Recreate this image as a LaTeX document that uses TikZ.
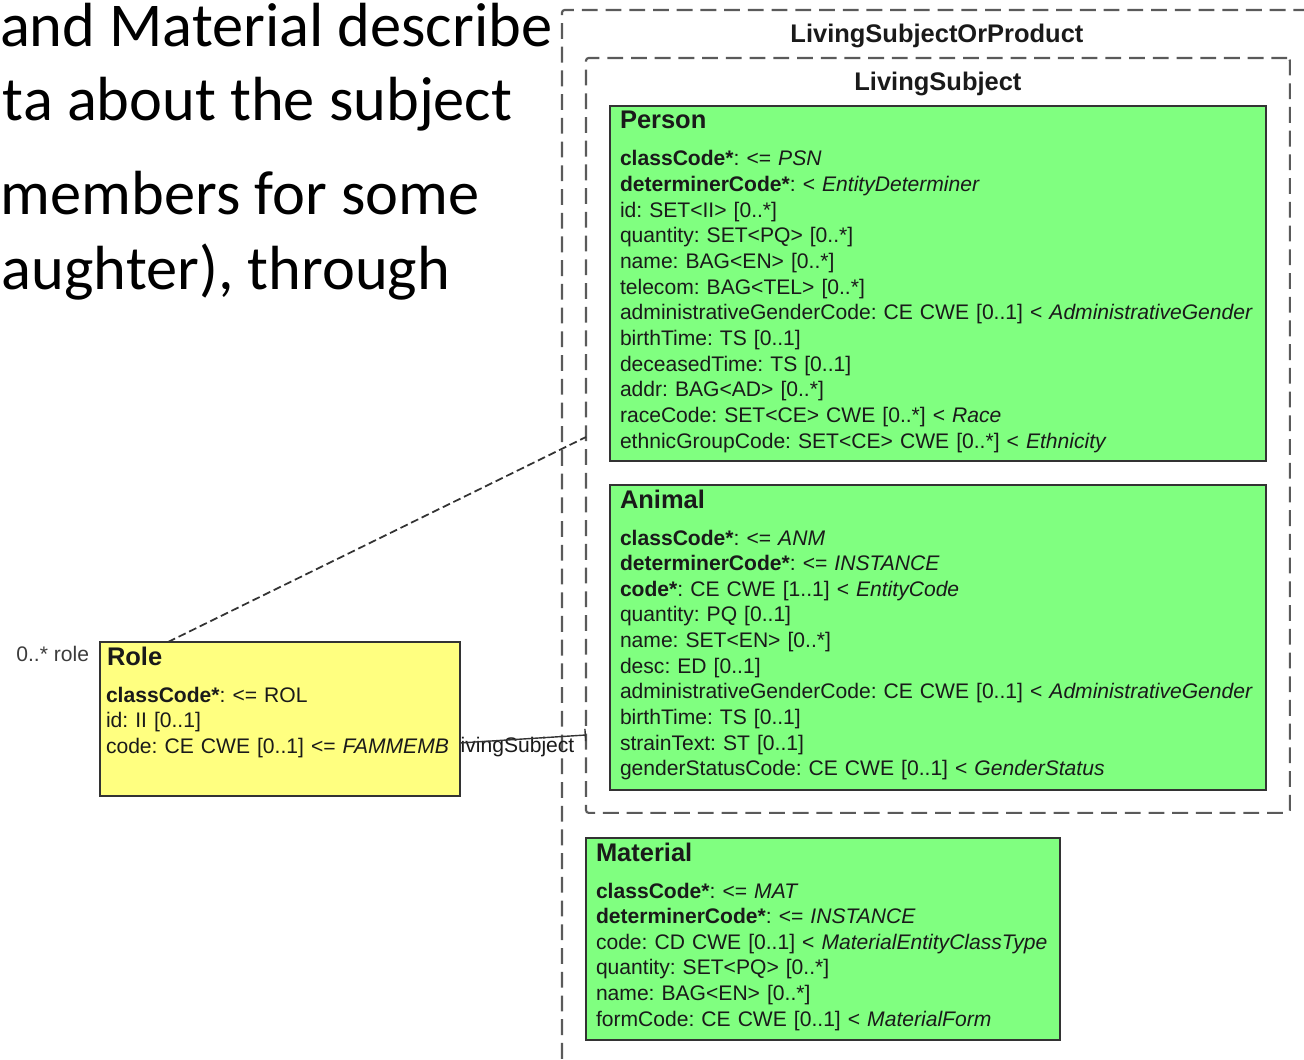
\documentclass[tikz,border=0pt]{standalone}
\usepackage{fontspec}
\setmainfont{Liberation Sans}
\newfontfamily\slidefont{Carlito}
\usetikzlibrary{arrows.meta,shadows}

\definecolor{umlgreen}{HTML}{80FF80}
\definecolor{umlyellow}{HTML}{FFFF80}
\definecolor{umlline}{HTML}{333333}
\definecolor{cmetline}{HTML}{5A5A5A}
\definecolor{umltext}{HTML}{1A1A1A}

\begin{document}
\begin{tikzpicture}[x=0.02cm,y=-0.02cm,
  every node/.style={inner sep=0pt,outer sep=0pt,text=umltext,font=\frenchspacing},
  classbox/.style={draw=umlline,line width=0.9pt,anchor=north west,
    drop shadow={shadow xshift=0.7pt,shadow yshift=-0.7pt,opacity=0.35}},
  container/.style={draw=cmetline,line width=1.2pt,dash pattern=on 9pt off 4.5pt,
    rounded corners=1.5pt,anchor=north west},
  contitle/.style={font=\fontsize{14.5}{17}\selectfont\bfseries},
  classtitle/.style={anchor=base west,font=\fontsize{14.5}{17}\selectfont\bfseries},
  classbody/.style={anchor=base west,text width=14cm,align=left,
    font=\frenchspacing\fontsize{12}{14.6}\selectfont},
  slide/.style={anchor=base west,font=\slidefont\fontsize{35.5}{42}\selectfont,text=black},
  noteline/.style={draw=umlline,line width=1pt,dash pattern=on 4.5pt off 2.2pt},
  assoc/.style={draw=umlline,line width=0.8pt}]
\useasboundingbox (0,0) rectangle (1304,1060);
\clip (0,0) rectangle (1304,1060);

% slide text cut off at the left
\node[slide] (line1) at (0,47) {and Material describe};
\node[slide] (line2) at (3,121) {ta about the subject};
\node[slide] (line3) at (1,215) {members for some};
\node[slide] (line4) at (2,290) {aughter), through};

% choice boxes
\node[container,minimum width=15cm,minimum height=21.4cm] (lsop) at (562,10) {};
\node[contitle] (lsoptitle) at ([shift={(0,26)}]lsop.north) {LivingSubjectOrProduct};
\node[container,minimum width=14.08cm,minimum height=15.1cm] (livsub) at (586,58) {};
\node[contitle] (livsubtitle) at ([shift={(0,26)}]livsub.north) {LivingSubject};

% Person
\node[classbox,fill=umlgreen,minimum width=13.12cm,minimum height=7.1cm] (person) at (610,106) {};
\node[classtitle] (persontitle) at ([shift={(10,23)}]person.north west) {Person};
\node[classbody] (personbody) at ([shift={(10,60)}]person.north west) {%
\textbf{classCode*}: <= \textit{PSN}\\
\textbf{determinerCode*}: < \textit{EntityDeterminer}\\
id: SET<II> [0..*]\\
quantity: SET<PQ> [0..*]\\
name: BAG<EN> [0..*]\\
telecom: BAG<TEL> [0..*]\\
administrativeGenderCode: CE CWE [0..1] < \textit{AdministrativeGender}\\
birthTime: TS [0..1]\\
deceasedTime: TS [0..1]\\
addr: BAG<AD> [0..*]\\
raceCode: SET<CE> CWE [0..*] < \textit{Race}\\
ethnicGroupCode: SET<CE> CWE [0..*] < \textit{Ethnicity}};

% Animal
\node[classbox,fill=umlgreen,minimum width=13.12cm,minimum height=6.1cm] (animal) at (610,485) {};
\node[classtitle] (animaltitle) at ([shift={(10,23)}]animal.north west) {Animal};
\node[classbody] (animalbody) at ([shift={(10,60)}]animal.north west) {%
\textbf{classCode*}: <= \textit{ANM}\\
\textbf{determinerCode*}: <= \textit{INSTANCE}\\
\textbf{code*}: CE CWE [1..1] < \textit{EntityCode}\\
quantity: PQ [0..1]\\
name: SET<EN> [0..*]\\
desc: ED [0..1]\\
administrativeGenderCode: CE CWE [0..1] < \textit{AdministrativeGender}\\
birthTime: TS [0..1]\\
strainText: ST [0..1]\\
genderStatusCode: CE CWE [0..1] < \textit{GenderStatus}};

% Material
\node[classbox,fill=umlgreen,minimum width=9.48cm,minimum height=4.04cm] (material) at (586,838) {};
\node[classtitle] (materialtitle) at ([shift={(10,23)}]material.north west) {Material};
\node[classbody] (materialbody) at ([shift={(10,60)}]material.north west) {%
\textbf{classCode*}: <= \textit{MAT}\\
\textbf{determinerCode*}: <= \textit{INSTANCE}\\
code: CD CWE [0..1] < \textit{MaterialEntityClassType}\\
quantity: SET<PQ> [0..*]\\
name: BAG<EN> [0..*]\\
formCode: CE CWE [0..1] < \textit{MaterialForm}};

% Role
\node[font=\fontsize{12}{14}\selectfont,anchor=base west] (lslabel) at (456,752) {livingSubject};
\node[font=\fontsize{12}{14}\selectfont,anchor=base east,text=umltext!85] (rolelabel) at (89,661) {0..* role};
\node[classbox,fill=umlyellow,minimum width=7.2cm,minimum height=3.08cm] (role) at (100,642) {};
\node[classtitle] (roletitle) at ([shift={(7,23)}]role.north west) {Role};
\node[classbody] (rolebody) at ([shift={(6,60)}]role.north west) {%
\textbf{classCode*}: <= ROL\\
id: II [0..1]\\
code: CE CWE [0..1] <= \textit{FAMMEMB}};

% connectors
\draw[noteline] ([shift={(68,0)}]role.north west) -- ([shift={(0,379)}]livsub.north west);
\draw[assoc,-{Bar[width=7pt,line width=0.8pt]}] ([shift={(0,24)}]role.east) -- ([shift={(0,677)}]livsub.north west);
\end{tikzpicture}
\end{document}
